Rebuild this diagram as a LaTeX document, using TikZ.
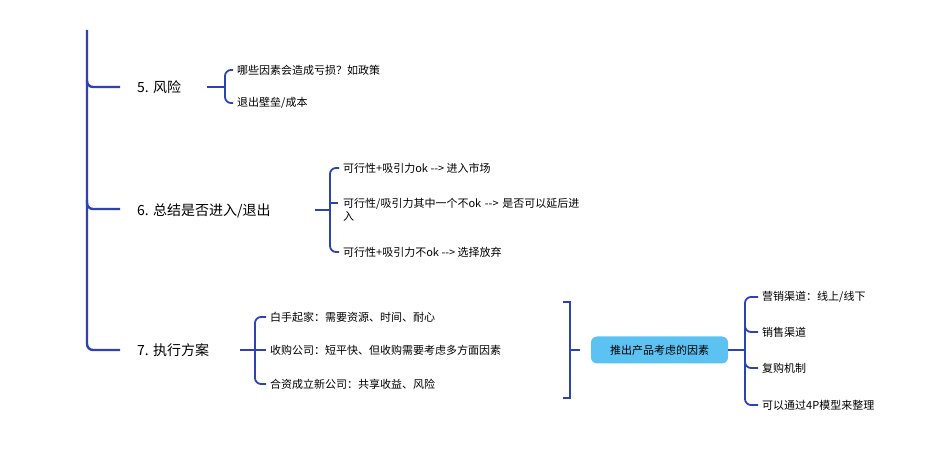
\documentclass[tikz,border=0pt]{standalone}
\usepackage{fontspec}
\newfontfamily\cjk{Noto Sans CJK SC}
\begin{document}
\begin{tikzpicture}[x=1pt,y=-1pt,
  ln/.style={draw=lineblue,line width=2.4pt,rounded corners=6pt},
  ln2/.style={draw=lineblue,line width=1.8pt,rounded corners=6pt},
  sq/.style={draw=lineblue,line width=1.4pt},
  ttl/.style={anchor=west,font=\cjk\fontsize{14}{16}\selectfont,inner sep=0pt},
  itm/.style={anchor=west,font=\cjk\fontsize{11}{13}\selectfont,inner sep=0pt,align=left}]
\definecolor{lineblue}{HTML}{2D43B5}
\definecolor{boxblue}{HTML}{5CC2F2}
\useasboundingbox (0,0) rectangle (940,470);
% main trunk
\draw[ln] (87,30) -- (87,350) -- (120,350);
\draw[ln] (87,80) |- (120,87);
\draw[ln] (87,200) |- (120,209);
\node[ttl] (t5) at (137,87) {5. 风险};
\node[ttl] (t6) at (137,211) {6. 总结是否进入/退出};
\node[ttl] (t7) at (137,350) {7. 执行方案};
% 5
\node[itm] (a1) at (237,70) {哪些因素会造成亏损？如政策};
\node[itm] (a2) at (237,103) {退出壁垒/成本};
\draw[ln2] (207,87) -- (225,87);
\draw[ln2] (a1.west) ++(-4,0) -| (225,87) |- ([xshift=-4pt]a2.west);
% 6
\node[itm] (b1) at (343,168) {可行性+吸引力ok --> 进入市场};
\node[itm,text width=300pt] (b2) at (343,210) {可行性/吸引力其中一个不ok --> 是否可以延后进\\入};
\node[itm] (b3) at (343,252) {可行性+吸引力不ok --> 选择放弃};
\draw[ln2] (315,210) -- (330,210);
\draw[ln2] ([xshift=-4pt]b1.west) -| (330,210) |- ([xshift=-4pt]b3.west);
\draw[ln2] (330,203) -- (338,203);
% 7
\node[itm] (c1) at (270,317) {白手起家：需要资源、时间、耐心};
\node[itm] (c2) at (270,350) {收购公司：短平快、但收购需要考虑多方面因素};
\node[itm] (c3) at (270,384) {合资成立新公司：共享收益、风险};
\draw[ln2] (240,350) -- (266,350);
\draw[ln2] ([xshift=-4pt]c1.west) -| (255,350) |- ([xshift=-4pt]c3.west);
% square bracket
\draw[sq] (563,302) -- (570,302) -- (570,398) -- (563,398);
\draw[sq] (570,350) -- (580,350);
\node[fill=boxblue,rounded corners=6pt,minimum width=137pt,minimum height=27pt,inner sep=0pt,font=\cjk\fontsize{11}{13}\selectfont] (h) at (659.5,350) {推出产品考虑的因素};
\node[itm] (d1) at (762,297) {营销渠道：线上/线下};
\node[itm] (d2) at (762,332) {销售渠道};
\node[itm] (d3) at (762,368) {复购机制};
\node[itm] (d4) at (762,405) {可以通过4P模型来整理};
\draw[ln2] (h.east) -- (745,350);
\draw[ln2] ([xshift=-4pt]d1.west) -| (745,350) |- ([xshift=-4pt]d4.west);
\draw[ln2] (745,320) |- ([xshift=-4pt]d2.west);
\draw[ln2] (745,360) |- ([xshift=-4pt]d3.west);
\end{tikzpicture}
\end{document}
